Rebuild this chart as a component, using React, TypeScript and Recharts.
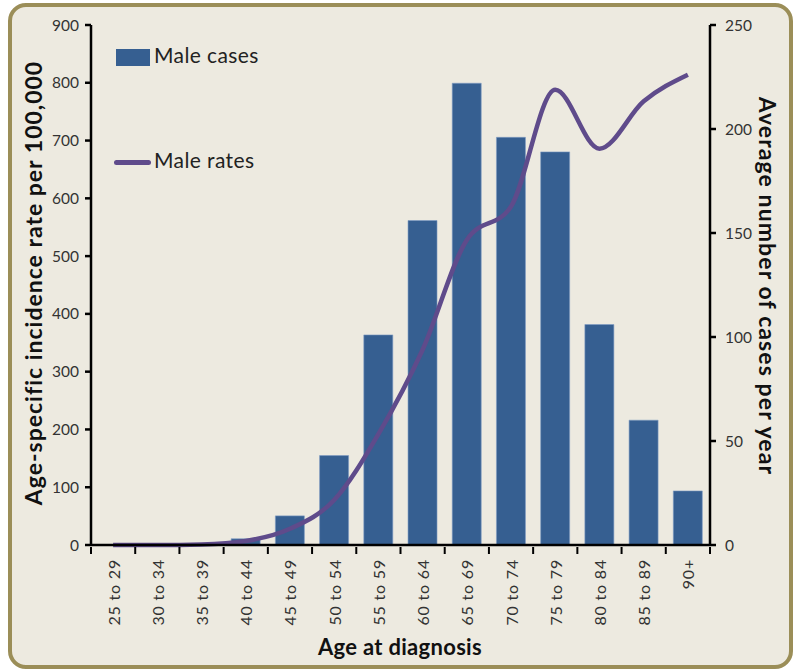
import { ComposedChart, Bar, Line, XAxis, YAxis } from "recharts";

const AGE_GROUPS = [
  "25 to 29", "30 to 34", "35 to 39", "40 to 44", "45 to 49", "50 to 54", "55 to 59",
  "60 to 64", "65 to 69", "70 to 74", "75 to 79", "80 to 84", "85 to 89", "90+",
];
// average number of cases per year (right axis)
const MALE_CASES = [0, 0, 0, 3, 14, 43, 101, 156, 222, 196, 189, 106, 60, 26];
// age-specific incidence rate per 100,000 (left axis)
const MALE_RATES = [0, 0, 1, 7, 28, 78, 192, 338, 528, 586, 788, 686, 768, 814];
const RATE_TICKS = [0, 100, 200, 300, 400, 500, 600, 700, 800, 900];
const CASE_TICKS = [0, 50, 100, 150, 200, 250];

const BAR_COLOR = "#365f91";
const LINE_COLOR = "#5f4b8b";
const FONT = "Lato, 'Open Sans', sans-serif";

const data = AGE_GROUPS.map((age, i) => ({
  age,
  cases: MALE_CASES[i],
  rate: MALE_RATES[i],
}));

const BAND = (710 - 91) / AGE_GROUPS.length;

function AgeTick(props: any) {
  const { x, y, payload, index } = props;
  const last = index === AGE_GROUPS.length - 1;
  return (
    <g>
      <line x1={x - BAND / 2} y1={y - 8} x2={x - BAND / 2} y2={y - 1} stroke="#000" strokeWidth={2} />
      {last && <line x1={x + BAND / 2} y1={y - 8} x2={x + BAND / 2} y2={y - 1} stroke="#000" strokeWidth={2} />}
      <text
        x={x}
        y={y + 4}
        transform={`rotate(-90, ${x}, ${y + 4})`}
        textAnchor="end"
        dominantBaseline="central"
        fill="#333"
        fontSize={16}
        letterSpacing={0.8}
        fontFamily={FONT}
      >
        {payload.value}
      </text>
    </g>
  );
}

const titleStyle = {
  position: "absolute" as const,
  whiteSpace: "nowrap" as const,
  fontFamily: FONT,
  fontWeight: 700,
  fontSize: 23,
  color: "#111",
};

export default function App() {
  return (
    <div style={{ position: "absolute", left: 0, top: 0, width: 801, height: 671, background: "#fff" }}>
      <div
        style={{
          position: "absolute",
          left: 8,
          top: 3,
          width: 777,
          height: 658,
          border: "4px solid #9b8e58",
          borderRadius: 18,
          background: "#edeae0",
        }}
      />
      <div style={{ position: "absolute", left: 0, top: 0 }}>
        <ComposedChart
          width={801}
          height={671}
          data={data}
          margin={{ top: 25, right: 0, bottom: 0, left: 0 }}
          barCategoryGap="17%"
        >
          <XAxis
            dataKey="age"
            height={126}
            interval={0}
            tick={<AgeTick />}
            tickLine={false}
            axisLine={{ stroke: "#000", strokeWidth: 2.5 }}
            tickSize={8}
          />
          <YAxis
            yAxisId="rate"
            orientation="left"
            width={91}
            domain={[0, 900]}
            ticks={RATE_TICKS}
            interval={0}
            tick={{ fill: "#333", fontSize: 15.5, fontFamily: FONT, dx: -4 }}
            tickSize={6}
            tickLine={{ stroke: "#000", strokeWidth: 2.5 }}
            axisLine={{ stroke: "#000", strokeWidth: 2.5 }}
          />
          <YAxis
            yAxisId="cases"
            orientation="right"
            width={91}
            domain={[0, 250]}
            ticks={CASE_TICKS}
            interval={0}
            tick={{ fill: "#333", fontSize: 15.5, fontFamily: FONT, dx: 7 }}
            tickSize={6}
            tickLine={{ stroke: "#000", strokeWidth: 2.5 }}
            axisLine={{ stroke: "#000", strokeWidth: 2.5 }}
          />
          <Bar yAxisId="cases" dataKey="cases" fill={BAR_COLOR} stroke="#7f9cc4" strokeWidth={0.6} isAnimationActive={false} />
          <Line
            yAxisId="rate"
            type="monotone"
            dataKey="rate"
            stroke={LINE_COLOR}
            strokeWidth={4.5}
            dot={false}
            isAnimationActive={false}
          />
        </ComposedChart>
      </div>

      {/* legend */}
      <div style={{ position: "absolute", left: 116, top: 49, width: 34, height: 17, background: BAR_COLOR }} />
      <div style={{ position: "absolute", left: 154, top: 42, fontFamily: FONT, fontSize: 21, letterSpacing: 0.4, color: "#222" }}>Male cases</div>
      <div style={{ position: "absolute", left: 114, top: 160, width: 37, height: 5, borderRadius: 3, background: LINE_COLOR }} />
      <div style={{ position: "absolute", left: 154, top: 147, fontFamily: FONT, fontSize: 21, letterSpacing: 0.4, color: "#222" }}>Male rates</div>

      {/* axis titles */}
      <div style={{ ...titleStyle, left: 33, top: 283, letterSpacing: 1, transform: "translate(-50%, -50%) rotate(-90deg)" }}>
        Age-specific incidence rate per 100,000
      </div>
      <div style={{ ...titleStyle, left: 768, top: 286, letterSpacing: 1.1, transform: "translate(-50%, -50%) rotate(90deg)" }}>
        Average number of cases per year
      </div>
      <div style={{ ...titleStyle, left: 400, top: 646, fontSize: 22, letterSpacing: 0.3, transform: "translate(-50%, -50%)" }}>
        Age at diagnosis
      </div>
    </div>
  );
}
